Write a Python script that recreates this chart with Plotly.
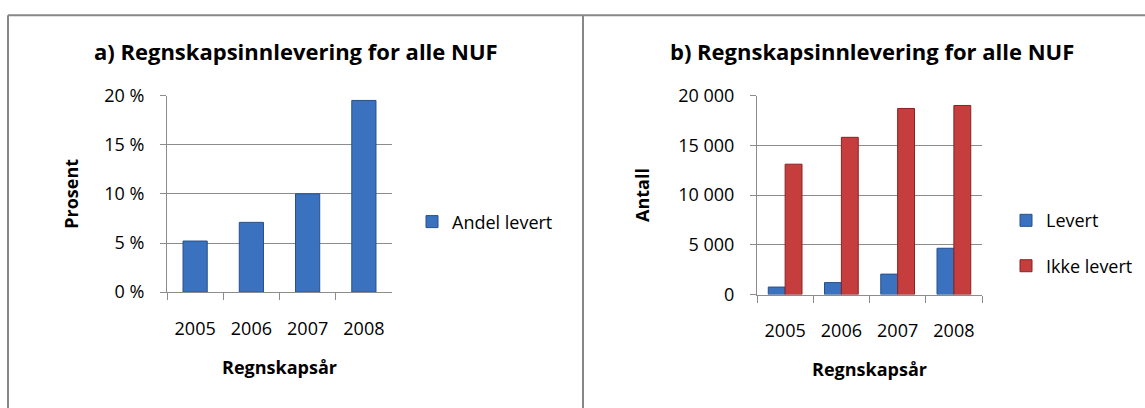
import plotly.graph_objects as go

years = ["2005", "2006", "2007", "2008"]
andel_levert = [0.052, 0.071, 0.100, 0.195]
levert = [750, 1200, 2050, 4650]
ikke_levert = [13100, 15800, 18700, 19000]

pct_tickvals = [0, 0.05, 0.10, 0.15, 0.20]
pct_ticktext = ["0 %", "5 %", "10 %", "15 %", "20 %"]
cnt_tickvals = [0, 5000, 10000, 15000, 20000]
cnt_ticktext = ["0", "5 000", "10 000", "15 000", "20 000"]

title_a = "a) Regnskapsinnlevering for alle NUF"
title_b = "b) Regnskapsinnlevering for alle NUF"

W, H = 1145, 422
FONT = "Open Sans"
BLUE = "#3A72BF"
BLUE_EDGE = "#264F8C"
RED = "#C53D3C"
RED_EDGE = "#862423"
GRID = "#8C8C8C"

fig = go.Figure()

fig.add_trace(go.Bar(
    x=years, y=andel_levert, name="Andel levert", width=0.43,
    marker=dict(color=BLUE, line=dict(color=BLUE_EDGE, width=1)),
    xaxis="x", yaxis="y", legend="legend", legendgroup="a",
))
fig.add_trace(go.Bar(
    x=years, y=levert, name="Levert", width=0.3, offset=-0.3,
    marker=dict(color=BLUE, line=dict(color=BLUE_EDGE, width=1)),
    xaxis="x2", yaxis="y2", legend="legend2", legendgroup="b1",
))
fig.add_trace(go.Bar(
    x=years, y=ikke_levert, name="Ikke levert", width=0.3, offset=0.0,
    marker=dict(color=RED, line=dict(color=RED_EDGE, width=1)),
    xaxis="x2", yaxis="y2", legend="legend2", legendgroup="b2",
))

def px_x(p):
    return p / W

def px_y(p):
    return 1 - p / H

TICK = 18
xcommon = dict(
    type="category", tickson="boundaries", ticks="outside", ticklen=7,
    tickcolor=GRID, showline=True, linecolor=GRID, linewidth=1,
    showgrid=False, zeroline=False, ticklabelstandoff=20,
    tickfont=dict(family=FONT, size=TICK, color="#000"),
    title=dict(text="Regnskapsår", standoff=22,
               font=dict(family=FONT, size=18, color="#000", weight="bold")),
    fixedrange=True,
)
ycommon = dict(
    ticks="outside", ticklen=6, tickcolor=GRID, showline=True,
    linecolor=GRID, linewidth=1, showgrid=True, gridcolor=GRID, gridwidth=1,
    zeroline=False, ticklabelstandoff=12,
    tickfont=dict(family=FONT, size=TICK, color="#000"),
    fixedrange=True,
)

fig.update_layout(
    width=W, height=H,
    margin=dict(l=0, r=0, t=0, b=0),
    paper_bgcolor="white", plot_bgcolor="white",
    barmode="overlay",
    font=dict(family=FONT, color="#000"),
    xaxis=dict(xcommon, domain=[px_x(167), px_x(392)], anchor="y"),
    yaxis=dict(ycommon, domain=[px_y(296), px_y(87.5)], anchor="x",
               range=[0, 0.2], tickvals=pct_tickvals, ticktext=pct_ticktext,
               title=dict(text="Prosent", standoff=20,
                          font=dict(family=FONT, size=18, color="#000", weight="bold"))),
    xaxis2=dict(xcommon, domain=[px_x(757), px_x(982)], anchor="y2"),
    yaxis2=dict(ycommon, domain=[px_y(298.5), px_y(87.5)], anchor="x2",
                range=[0, 20000], tickvals=cnt_tickvals, ticktext=cnt_ticktext,
                title=dict(text="Antall", standoff=23,
                           font=dict(family=FONT, size=18, color="#000", weight="bold"))),
    legend=dict(x=px_x(412), y=px_y(221.5), xanchor="left", yanchor="middle",
                font=dict(family=FONT, size=18, color="#000"),
                bgcolor="rgba(0,0,0,0)", tracegroupgap=19),
    legend2=dict(x=px_x(1006), y=px_y(244), xanchor="left", yanchor="middle",
                 font=dict(family=FONT, size=18, color="#000"),
                 bgcolor="rgba(0,0,0,0)", tracegroupgap=19),
    showlegend=True,
    annotations=[
        dict(text=title_a, x=px_x(295.5), y=px_y(40.5), xref="paper", yref="paper",
             xanchor="center", yanchor="middle", showarrow=False,
             font=dict(family=FONT, size=22, color="#000", weight="bold")),
        dict(text=title_b, x=px_x(872), y=px_y(40.5), xref="paper", yref="paper",
             xanchor="center", yanchor="middle", showarrow=False,
             font=dict(family=FONT, size=22, color="#000", weight="bold")),
    ],
    shapes=[
        dict(type="line", xref="paper", yref="paper", x0=px_x(8), x1=1.0,
             y0=px_y(2.5), y1=px_y(2.5), line=dict(color="#878787", width=2)),
        dict(type="line", xref="paper", yref="paper", x0=px_x(8), x1=px_x(8),
             y0=px_y(2.5), y1=0, line=dict(color="#878787", width=2)),
        dict(type="line", xref="paper", yref="paper", x0=px_x(583), x1=px_x(583),
             y0=px_y(2.5), y1=0, line=dict(color="#878787", width=2)),
    ],
)

fig.write_html(
    "out.html",
    config={"displayModeBar": False},
    post_script="document.body.style.margin='0';document.body.style.overflow='hidden';",
)
